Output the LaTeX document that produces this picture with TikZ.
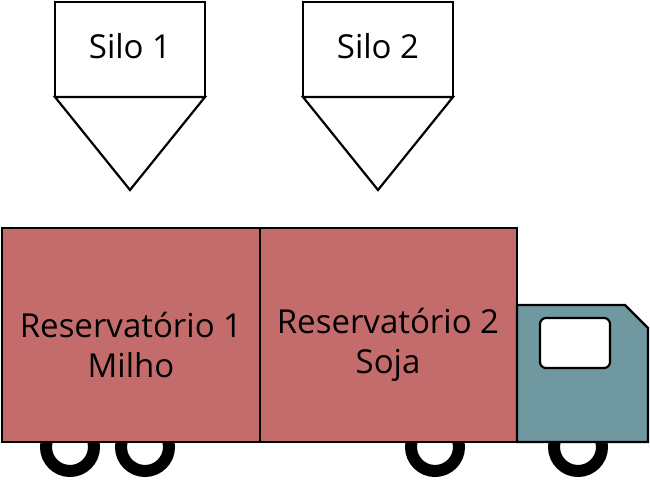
\documentclass[tikz,border=0pt]{standalone}
\usepackage{fontspec}
\setmainfont{Open Sans}
\usetikzlibrary{positioning}
\definecolor{tankred}{RGB}{196,108,108}
\definecolor{cabteal}{RGB}{111,152,160}
\tikzset{
  box/.style={draw, line width=2.2pt, line join=miter},
  lbl/.style={font=\fontsize{33}{40}\selectfont, align=center},
  wheel/.style={draw=black, line width=12pt, fill=white}
}
\begin{document}
\begin{tikzpicture}[x=1pt, y=-1pt]
\useasboundingbox (0,0) rectangle (650,479);
% Silos
\foreach \n/\xa in {1/55, 2/303} {
  \draw[box, fill=white] (\xa,2) rectangle ++(150,95);
  \draw[box, fill=white] (\xa,97) -- ++(150,0) -- ++(-75,93) -- cycle;
  \node[lbl] (silo\n) at (\xa+75,46) {Silo \n};
}
% Wheels
\foreach \xw in {70, 145, 435, 578}
  \draw[wheel] (\xw,447) circle (24);
% Truck body
\draw[box, fill=tankred] (2,228) rectangle (260,442);
\draw[box, fill=tankred] (260,228) rectangle (517,442);
\draw[box, fill=cabteal] (517,305) -- (625,305) -- (648,328) -- (648,442) -- (517,442) -- cycle;
\draw[box, fill=white, rounded corners=6pt] (540,318) rectangle (610,368);
\node[lbl] (res1) at (131,345) {Reservatório 1\\Milho};
\node[lbl] (res2) at (388,345) {Reservatório 2\\Soja};
\end{tikzpicture}
\end{document}
